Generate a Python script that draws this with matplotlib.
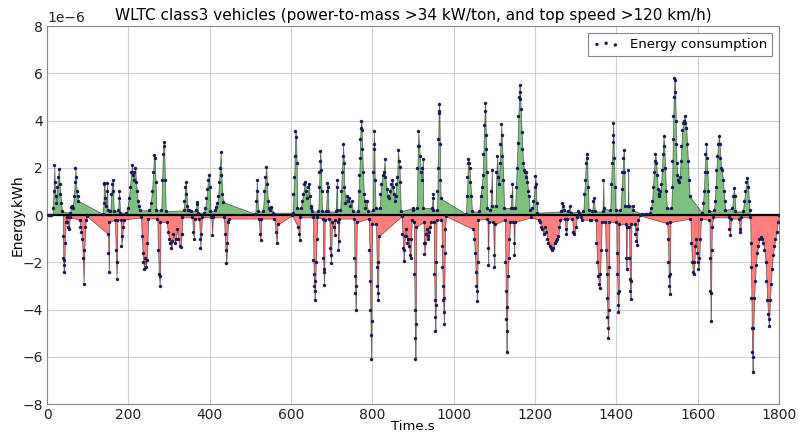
import numpy as np
import matplotlib
matplotlib.use("Agg")
import matplotlib.pyplot as plt

# Energy per second in units of 1e-6 kWh, per WLTC phase
low_t = [
    2, 5, 8, 11,
    14, 16, 18, 19, 21, 23, 25, 27, 29, 31, 33, 35, 37,
    39, 40, 41, 42, 43, 44, 46, 48, 50, 52, 54, 56,
    57, 59, 61, 63, 66, 68, 70, 71, 73, 75, 77,
    80, 82, 84, 86, 88, 90, 92, 94, 96, 98,
    137, 139, 140, 141, 143, 145, 147, 148, 149,
    150, 151, 152, 153,
    156, 158, 160, 162, 163, 164,
    167, 169, 171, 172, 173,
    175, 177, 178, 180,
    181, 183, 185, 187, 189,
    195, 198, 201, 204, 207, 209, 211, 213, 215, 217, 219, 221, 223, 226, 228,
    231, 233, 235, 237, 239, 241, 243, 245, 247, 249,
    252, 255, 258, 261, 263, 265, 267, 269,
    271, 273, 275, 277, 278, 279,
    281, 283, 285, 287, 288, 290, 292,
    294, 297, 300, 303, 306, 308, 311, 314, 317, 320, 323, 326, 329, 331, 333,
    336, 338, 340, 341, 343, 345, 347, 350, 353,
    357, 359, 361, 363,
    366, 368, 370, 372,
    374, 376, 377, 379, 381,
    385, 389, 392, 394, 396, 398, 400, 402,
    404, 406, 408,
    412, 415, 418, 421, 423, 425, 427, 429, 431, 433,
    435, 437, 439, 441, 443, 445, 447,
    512, 514, 516, 517, 519,
    521, 523, 525, 527,
    531, 534, 537, 539, 541, 543, 545, 549, 552, 556,
    559, 562, 565, 567,
]
low_e = [
    0, 0, 0, 0,
    0.3, 1.0, 2.1, 1.4, 0.8, 0.5, 1.2, 1.6, 1.95, 1.3, 0.9, 0.5, 0.15,
    -0.9, -1.8, -2.4, -2.1, -1.9, -1.2, -0.3, -0.1, -0.3, -0.5, -0.6, -0.1,
    0.1, 0.35, 0.4, 0.3, 0.8, 1.4, 2.0, 1.6, 1.0, 0.8, 0.6,
    -0.2, -0.5, -0.7, -1.0, -1.8, -2.9, -1.5, -0.5, -0.2, -0.05,
    0.05, 0.5, 1.3, 1.35, 0.7, 0.4, 1.0, 1.35, 0.2,
    -0.8, -1.6, -2.4, -0.3,
    0.15, 0.9, 1.3, 1.5, 1.0, 0.15,
    -0.2, -1.5, -2.7, -2.0, -0.2,
    0.2, 1.0, 0.7, 0.1,
    -0.2, -1.3, -0.9, -0.5, -0.2,
    0.1, 0.3, 0.7, 1.2, 1.8, 2.1, 1.7, 1.5, 1.8, 2.0, 1.4, 1.0, 0.6, 0.4, 0.2,
    -0.1, -0.9, -1.6, -2.0, -2.3, -1.8, -2.2, -1.9, -1.2, -0.15,
    0.2, 0.5, 1.0, 1.8, 2.55, 2.4, 1.4, 0.2,
    -0.15, -1.5, -2.5, -3.0, -2.6, -0.3,
    0.2, 1.5, 2.6, 3.1, 2.9, 1.5, 0.15,
    -0.3, -0.7, -1.0, -1.2, -1.4, -1.1, -0.8, -1.2, -1.0, -0.6, -1.0, -1.3, -1.35, -0.8, -0.1,
    0.2, 0.6, 1.2, 1.4, 0.9, 0.4, 0.2, 0.2, 0.15,
    -0.1, -0.7, -1.0, -0.15,
    0.2, 0.45, 0.55, 0.1,
    -0.15, -1.0, -1.4, -0.8, -0.1,
    0.1, 0.3, 0.7, 1.1, 1.5, 1.7, 1.2, 0.15,
    -0.1, -0.85, -0.1,
    0.2, 0.35, 0.5, 0.8, 1.4, 2.0, 2.65, 1.7, 0.9, 0.55,
    -0.1, -0.8, -1.5, -2.05, -1.2, -0.3, -0.15,
    0.05, 0.6, 1.5, 1.0, 0.15,
    -0.15, -0.8, -1.05, -0.15,
    0.15, 1.0, 1.6, 2.05, 1.3, 0.6, 0.3, 0.2, 0.35, 0.1,
    -0.15, -0.7, -1.2, -0.4,
]

mid_t = [
    603,
    604, 606, 608, 609, 611, 612, 614, 615,
    617, 619, 621, 622,
    624, 627, 630, 633, 635, 637, 640, 643, 644, 646, 648, 650, 652,
    654, 655, 656, 657, 658, 659, 660, 661, 663, 665,
    667, 669, 670, 671, 672, 674, 675, 676,
    678, 679, 680, 681, 682, 683,
    686, 688, 689, 691, 692,
    694, 696, 698, 699, 701,
    705, 707, 709,
    710, 712, 713, 714,
    715, 716, 717, 719,
    721, 723, 725, 727, 728, 730, 731, 734, 737, 740, 743, 746, 749, 752,
    755, 756, 757, 758, 759, 760, 762,
    764, 766, 768, 769, 770, 771, 773, 774, 775, 777, 779, 781, 783, 786, 789,
    791, 793, 794, 795, 796, 797, 798, 799,
    801, 802, 803, 804, 805, 806, 808,
    809, 811, 812, 813, 814, 815, 816,
    818, 820, 822, 825, 828, 830, 832, 835, 838, 840, 843, 846, 849, 851, 853, 855, 857, 859, 861, 863, 865, 867, 868, 870,
    872, 874, 876, 877, 878, 880, 882, 884, 886, 888, 890, 892, 894, 895, 897,
    899, 901,
    902, 903, 904, 905, 906, 907, 908,
    909, 911, 912, 913, 915, 917, 919, 921, 923, 924, 925,
    926, 927, 928, 930, 932, 934, 936, 938, 940, 942, 944,
    946, 948, 949, 950,
    951, 952, 953, 954, 955, 956, 957, 958,
    959, 960, 961, 962, 963, 964, 965, 966, 967, 968,
    970, 971, 972, 973, 974, 975, 976, 977, 978, 979, 981,
]
mid_e = [
    -0.02,
    0.1, 0.9, 1.6, 2.5, 3.55, 3.3, 2.2, 0.3,
    -0.5, -0.8, -1.05, -0.1,
    0.3, 0.6, 0.9, 1.3, 1.4, 1.0, 0.7, 1.2, 1.3, 0.8, 0.4, 0.3, 0.15,
    -0.1, -1.9, -2.5, -3.0, -3.6, -3.2, -2.8, -2.0, -1.0, -0.1,
    0.15, 1.2, 1.8, 2.3, 2.7, 1.9, 1.0, 0.15,
    -0.15, -1.8, -2.4, -2.95, -2.3, -0.2,
    0.15, 1.0, 1.35, 1.2, 0.15,
    -0.15, -1.4, -2.05, -1.7, -0.3,
    -0.5, -0.85, -0.2,
    0.15, 1.2, 1.5, 0.2,
    -0.3, -1.5, -1.1, -0.15,
    0.2, 1.0, 1.8, 2.5, 3.0, 2.2, 1.2, 0.5, 0.8, 0.6, 0.7, 0.4, 0.6, 0.15,
    -0.15, -1.8, -2.6, -3.3, -4.0, -3.0, -0.3,
    0.15, 1.0, 1.7, 2.4, 3.2, 3.7, 4.0, 3.6, 2.8, 1.8, 0.9, 0.6, 0.3, 0.6, 0.15,
    -0.15, -1.5, -2.8, -4.0, -5.1, -6.1, -4.5, -0.4,
    0.2, 1.8, 3.0, 3.55, 2.8, 1.5, 0.3,
    -0.4, -2.2, -3.0, -3.6, -3.3, -2.0, -0.9,
    0.3, 0.9, 1.3, 1.7, 1.8, 2.35, 1.6, 1.1, 0.8, 0.7, 1.0, 1.3, 1.5, 1.2, 0.9, 0.6, 0.8, 1.3, 1.6, 2.75, 2.3, 2.05, 1.4, 0.15,
    -0.05, -0.8, -1.4, -1.95, -1.5, -0.9, -0.6, -0.9, -1.2, -1.0, -1.3, -1.7, -1.8, -1.0, -0.2,
    0.3, 0.2,
    -0.3, -2.5, -4.0, -5.2, -6.1, -4.6, -0.5,
    0.3, 2.0, 2.9, 3.55, 2.9, 2.5, 1.8, 1.5, 2.0, 2.35, 0.3,
    -0.3, -1.2, -1.65, -1.2, -0.8, -0.6, -0.9, -1.0, -0.7, -0.5, -0.3,
    0.3, 0.7, 0.9, 0.2,
    -0.3, -2.5, -3.6, -4.3, -4.9, -3.8, -2.0, -0.2,
    0.2, 1.0, 2.0, 3.2, 4.3, 4.7, 4.4, 3.0, 1.5, 0.7,
    -0.2, -1.3, -2.2, -3.0, -3.6, -4.1, -4.6, -3.5, -1.6, -0.6, -0.05,
]

high_t = [
    1030, 1032, 1034, 1035, 1036, 1037, 1039, 1041, 1043, 1045,
    1048, 1050, 1052, 1054, 1056, 1057, 1058, 1059, 1060,
    1063, 1066, 1069, 1071, 1073, 1075, 1077, 1078, 1079, 1080, 1081, 1082,
    1083, 1084, 1085, 1086,
    1090, 1092, 1094, 1095,
    1097, 1099, 1100, 1101,
    1103, 1105, 1107, 1109, 1111, 1113, 1115, 1117, 1118, 1120, 1122, 1124,
    1126, 1127, 1128, 1129, 1130, 1131, 1132, 1133, 1135, 1137, 1139,
    1140, 1142, 1144, 1145,
    1147, 1148, 1149, 1150,
    1151, 1153, 1155, 1157, 1159, 1161, 1162, 1163, 1164, 1165, 1167, 1169, 1171, 1173, 1175, 1177, 1179, 1181, 1183, 1185, 1187,
    1190,
    1193, 1196, 1199, 1201, 1202, 1204, 1206,
    1209, 1212, 1215, 1218, 1221, 1224, 1227, 1230, 1233, 1236, 1239, 1242, 1245, 1248, 1251, 1254, 1257, 1260, 1262,
    1265, 1267, 1269, 1271,
    1273, 1275, 1277, 1279,
    1282, 1285, 1288,
    1291, 1294, 1297, 1300, 1303,
    1306, 1309,
    1313, 1316,
    1319, 1321, 1323, 1325, 1327, 1328, 1330, 1332,
    1335, 1338,
    1341, 1343, 1345, 1347,
    1349, 1351, 1353, 1355, 1357, 1359, 1360, 1362, 1364,
    1366, 1368, 1369,
    1372, 1374, 1376, 1377, 1378, 1379, 1380, 1381, 1382, 1383,
    1385, 1387, 1389, 1391, 1392, 1393, 1394, 1396, 1398,
    1400, 1401, 1402, 1403, 1404, 1405, 1406, 1407,
    1410, 1413, 1415, 1417, 1418, 1420, 1421,
    1423, 1424, 1425, 1426,
    1428, 1429, 1430,
    1431, 1432, 1433, 1434, 1435, 1436, 1437,
    1440, 1442,
    1445, 1447, 1449, 1451, 1452, 1454, 1458,
    1464, 1470, 1476,
]
high_e = [
    0.05, 0.8, 1.6, 2.2, 2.35, 2.2, 2.0, 1.4, 0.8, 0.15,
    -0.6, -1.0, -1.6, -2.4, -3.0, -3.65, -3.2, -2.0, -0.2,
    0.15, 0.8, 1.2, 1.7, 2.6, 3.8, 4.75, 4.4, 3.4, 2.8, 1.8, 0.3,
    -0.15, -1.4, -2.1, -0.3,
    0.2, 1.0, 1.9, 0.4,
    -0.3, -1.7, -2.2, -0.4,
    0.4, 1.8, 2.5, 1.6, 1.3, 2.2, 3.0, 3.85, 3.4, 2.5, 1.5, 0.3,
    -0.2, -2.0, -3.2, -4.4, -5.8, -4.9, -3.9, -2.6, -1.8, -1.0, -0.3,
    0.3, 0.8, 1.3, 0.3,
    -0.3, -1.2, -1.7, -0.3,
    0.3, 1.2, 2.0, 3.05, 4.2, 5.0, 5.5, 5.2, 4.9, 4.5, 3.5, 2.8, 2.2, 1.9, 1.8, 1.6, 1.8, 1.4, 1.0, 0.8, 0.2,
    -0.1,
    0.3, 0.6, 1.2, 1.65, 1.3, 0.5, 0.1,
    -0.2, -0.3, -0.5, -0.6, -0.8, -0.5, -0.7, -1.0, -1.2, -1.3, -1.4, -1.5, -1.4, -1.2, -1.1, -1.0, -0.9, -0.5, -0.2,
    0.15, 0.5, 0.4, 0.2,
    -0.15, -0.6, -0.8, -0.15,
    0.15, 0.4, 0.1,
    -0.15, -0.7, -0.8, -0.5, -0.1,
    0.15, 0.1,
    -0.1, -0.2,
    0.15, 0.9, 1.5, 2.2, 2.6, 2.4, 1.2, 0.2,
    -0.2, -0.2,
    0.15, 0.6, 0.7, 0.15,
    -0.2, -1.2, -2.0, -2.6, -2.9, -3.1, -2.5, -1.5, -0.3,
    0.15, 1.5, 0.3,
    -0.3, -1.5, -2.5, -3.5, -4.3, -4.8, -5.2, -4.0, -2.2, -0.3,
    0.2, 1.3, 2.2, 3.1, 3.9, 3.4, 2.4, 1.2, 0.2,
    -0.3, -1.6, -2.5, -3.3, -3.8, -4.1, -3.2, -0.4,
    0.2, 1.1, 1.8, 2.4, 2.75, 1.8, 0.4,
    -0.4, -1.8, -2.3, -0.5,
    0.4, 1.9, 0.4,
    -0.5, -1.8, -2.7, -3.2, -3.55, -2.8, -0.4,
    0.4, 0.2,
    -0.4, -0.8, -1.1, -1.25, -0.6, -0.2, -0.02,
    0.05, 0.05, 0.05,
]

xhigh_t = [
    1482, 1485, 1488, 1490, 1492, 1494, 1496, 1498, 1500, 1502, 1504, 1506, 1508, 1510, 1512, 1514, 1516, 1518, 1520, 1522, 1524,
    1525, 1527, 1528, 1529, 1530, 1531, 1532, 1533,
    1535, 1537, 1538, 1539, 1540, 1541, 1543, 1544, 1545, 1546, 1547, 1548, 1550, 1552, 1554, 1556, 1558, 1560, 1562, 1564, 1566, 1568, 1570, 1572, 1574, 1576, 1578, 1580,
    1582, 1584, 1586, 1588, 1590, 1592, 1594, 1596, 1598, 1600, 1602, 1604, 1606, 1608,
    1611, 1613, 1615, 1617, 1619, 1621, 1622, 1624, 1626, 1627,
    1629, 1630, 1631, 1632, 1633, 1634, 1635, 1638,
    1640, 1642, 1644, 1646, 1648, 1650, 1652, 1654, 1656, 1658, 1660, 1662, 1664, 1666, 1668,
    1676, 1678, 1680, 1682,
    1685, 1687, 1689, 1691, 1693,
    1701, 1703, 1705, 1707,
    1711, 1714, 1717, 1720, 1722, 1724, 1726, 1728,
    1729, 1730, 1731, 1732, 1733, 1734, 1735, 1736, 1737, 1739, 1741, 1743, 1746, 1749, 1752, 1755, 1758,
    1761, 1764, 1767, 1769, 1771, 1773, 1775, 1776, 1778, 1780, 1782, 1785, 1788, 1791, 1794, 1797, 1800,
]
xhigh_e = [
    0.1, 0.3, 0.6, 1.2, 1.8, 2.3, 2.6, 2.2, 1.7, 1.1, 0.8, 0.9, 1.0, 1.3, 1.9, 2.6, 3.35, 2.9, 2.0, 1.0, 0.3,
    -0.35, -1.0, -2.0, -2.6, -3.0, -3.35, -2.5, -0.3,
    0.3, 1.2, 2.3, 3.2, 4.2, 5.0, 5.8, 5.7, 5.2, 4.0, 3.0, 2.2, 1.7, 1.5, 1.4, 1.6, 2.3, 2.9, 3.6, 3.9, 4.0, 4.2, 3.9, 3.7, 3.0, 2.3, 1.5, 0.8,
    -0.15, -1.2, -2.0, -2.4, -2.5, -2.0, -1.3, -1.0, -1.6, -2.0, -2.3, -1.8, -1.0, -0.15,
    0.1, 0.5, 1.0, 1.8, 2.6, 3.0, 2.4, 1.8, 1.0, 0.15,
    -0.2, -1.8, -3.2, -4.5, -3.3, -1.5, -0.5, -0.1,
    0.2, 0.6, 1.2, 1.9, 2.5, 3.0, 3.35, 3.0, 2.4, 2.0, 1.9, 1.5, 1.0, 0.6, 0.2,
    -0.1, -0.6, -0.85, -0.15,
    0.3, 0.8, 1.15, 0.8, 0.15,
    -0.15, -0.6, -0.7, -0.1,
    0.15, 0.6, 1.0, 1.4, 1.55, 1.2, 0.6, 0.2,
    -0.1, -1.2, -2.2, -3.5, -4.8, -5.8, -6.65, -6.0, -4.8, -3.5, -2.8, -2.1, -1.6, -1.3, -1.0, -0.95, -1.0,
    -1.2, -1.5, -2.0, -2.8, -3.6, -4.2, -4.7, -4.4, -3.6, -2.9, -2.3, -1.7, -1.3, -1.0, -0.7, -0.3, 0.0,
]

title = "WLTC class3 vehicles (power-to-mass >34 kW/ton, and top speed >120 km/h)"
x_label = "Time.s"
y_label = "Energy.kWh"
legend_label = "Energy consumption"
x_ticks = [0, 200, 400, 600, 800, 1000, 1200, 1400, 1600, 1800]
y_ticks = [-8, -6, -4, -2, 0, 2, 4, 6, 8]

for name, a, b in [("low", low_t, low_e), ("mid", mid_t, mid_e),
                   ("high", high_t, high_e), ("xhigh", xhigh_t, xhigh_e)]:
    if len(a) != len(b):
        raise ValueError(f"{name}: {len(a)} times vs {len(b)} values")

t = np.array(low_t + mid_t + high_t + xhigh_t, dtype=float)
e = np.array(low_e + mid_e + high_e + xhigh_e, dtype=float) * 1e-6

plt.rcParams['font.family'] = ['DejaVu Sans']
fig = plt.figure(figsize=(7.98, 4.32), dpi=100)
ax = fig.add_axes([0.0589, 0.0648, 0.9173, 0.875])

pos = e > 0
neg = e < 0
ax.fill_between(t[pos], e[pos], 0, facecolor='#008000', edgecolor='black',
                alpha=0.5, linewidth=0.6, zorder=2)
ax.fill_between(t[neg], e[neg], 0, facecolor='#ff0000', edgecolor='black',
                alpha=0.5, linewidth=0.6, zorder=2)
ax.axhline(0, color='black', lw=1.6, zorder=2.5)
ax.scatter(t, e, s=6, color='#1a1a55', linewidths=0, zorder=3, label=legend_label)

ax.set_xlim(0, 1800)
ax.set_ylim(-8e-6, 8e-6)
ax.set_xticks(x_ticks)
ax.set_yticks(np.array(y_ticks) * 1e-6)
ax.grid(True, color='#cfcfcf', lw=0.8)
ax.set_axisbelow(True)
ax.tick_params(length=0, labelsize=10, pad=3, colors='#222222')
for s in ax.spines.values():
    s.set_color('#888888')
    s.set_linewidth(0.8)
ax.yaxis.get_offset_text().set_fontsize(10)

ax.set_title(title, fontsize=11, pad=4)
ax.set_xlabel(x_label, fontsize=9.5)
ax.set_ylabel(y_label, fontsize=10)
ax.xaxis.set_label_coords(0.5, -0.041)
ax.yaxis.set_label_coords(-0.031, 0.5)
leg = ax.legend(loc='upper right', scatterpoints=3, fontsize=9.5, fancybox=False,
                framealpha=1, edgecolor='#888888', markerscale=1.0,
                borderaxespad=0.5)
leg.get_frame().set_linewidth(0.8)

fig.savefig('out.png', dpi=100)
